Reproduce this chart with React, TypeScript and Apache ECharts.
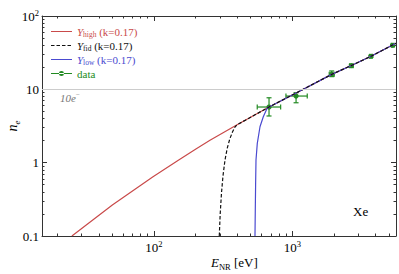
import React, { useEffect, useRef } from "react";
import * as echarts from "echarts";

// ---- data (energies in eV, n_e in electrons) ----
const E_HIGH = [25.5, 50, 98.4, 150, 201, 254, 396, 679, 1076, 1928, 2655, 3707, 5623];
const N_HIGH = [0.1, 0.265, 0.643, 1.08, 1.54, 2.02, 3.26, 5.74, 9.0, 16.0, 21.0, 28.2, 42.5];

const E_FID = [296.6, 301.1, 307.7, 315.4, 326.1, 338.8, 353.2, 369.4, 385.1, 396.3, 679, 1076, 1928, 2655, 3707, 5623];
const N_FID = [0.1, 0.199, 0.385, 0.657, 1.085, 1.582, 2.099, 2.615, 3.06, 3.26, 5.74, 9.0, 16.0, 21.0, 28.2, 42.5];

const E_LOW = [537.5, 540.2, 543, 546.6, 558.5, 584.2, 617.2, 656.4, 679, 1076, 1928, 2655, 3707, 5623];
const N_LOW = [0.1, 0.2256, 0.4947, 1.085, 1.834, 3.089, 4.229, 5.472, 5.74, 9.0, 16.0, 21.0, 28.2, 42.5];

const DATA_E = [679, 1065, 1928, 2672, 3705, 5320];
const DATA_E_LO = [558, 900, 1850, 2600, 3620, 5200];
const DATA_E_HI = [824, 1283, 2010, 2750, 3790, 5450];
const DATA_N = [5.74, 8.1, 16.0, 21.0, 28.2, 39.8];
const DATA_N_LO = [4.33, 6.56, 14.9, 20.1, 27.3, 38.6];
const DATA_N_HI = [7.67, 9.0, 17.8, 21.9, 29.1, 41.0];

const X_MIN_EV = 15.5;
const X_MAX_EV = 5623;
const Y_MIN = 0.1;
const Y_MAX = 100;
const X_MAJOR = [100, 1000];
const Y_MAJOR = [0.1, 1, 10, 100];
const REF_LEVEL = 10;

const RED = "#c94a4a";
const BLUE = "#4a4ad0";
const BLACK = "#111111";
const GREEN = "#228a22";
const AXIS = "#333333";
const FONT = "Liberation Serif";

const lg = (v: number) => Math.log10(v);

function minorTicks(lo: number, hi: number): number[] {
  const out: number[] = [];
  for (let d = -3; d <= 5; d++) {
    for (let k = 2; k <= 9; k++) {
      const v = k * Math.pow(10, d);
      if (v >= lo && v <= hi) out.push(lg(v));
    }
  }
  return out;
}

const pairs = (xs: number[], ys: number[]) => xs.map((x, i) => [lg(x), lg(ys[i])]);

const supFmt = (v: number) => {
  const r = Math.round(v);
  if (r === -1) return "0.1";
  if (r === 0) return "1";
  if (r === 1) return "10";
  return "10{sup|" + r + "}";
};

const labelRich = {
  sup: { fontSize: 8.5, fontFamily: FONT, color: "#000", verticalAlign: "top", lineHeight: 16 },
};

const BOX = "M0,0h0.01v0.01h-0.01Z M21,10h0.01v0.01h-0.01Z ";
const ICON_SOLID = "path://" + BOX + "M0,4.4H21V5.6H0Z";
const ICON_DASH =
  "path://" + BOX + "M0,4.4h3.5v1.2h-3.5Z M5.5,4.4h3.5v1.2h-3.5Z M11,4.4h3.5v1.2h-3.5Z M16.5,4.4h3.5v1.2h-3.5Z";
const ICON_DATA =
  "path://" + BOX + "M0,4.4H21V5.6H0Z M8,5a2.5,2.5 0 1,0 5,0a2.5,2.5 0 1,0 -5,0Z";

export default function App() {
  const ref = useRef<HTMLDivElement>(null);
  useEffect(() => {
    if (!ref.current) return;
    const chart = echarts.init(ref.current, undefined, { renderer: "svg" });
    const xmin = lg(X_MIN_EV);
    const xmax = lg(X_MAX_EV);
    const ymin = lg(Y_MIN);
    const ymax = lg(Y_MAX);
    const xMinor = minorTicks(X_MIN_EV, X_MAX_EV);
    const yMinor = minorTicks(Y_MIN, Y_MAX);
    const xMajor = X_MAJOR.map(lg);
    const yMajor = Y_MAJOR.map(lg);

    const lineOn = { show: true, onZero: false, lineStyle: { color: AXIS, width: 1 } };
    const lineOff = { show: false, onZero: false };
    const mk = (position: string, min: number, max: number, major: boolean, vals: number[], line: boolean, label: any) => ({
      type: "value",
      position,
      min,
      max,
      splitLine: { show: false },
      axisLine: line ? lineOn : lineOff,
      axisTick: { inside: true, length: major ? 5 : 2.5, customValues: vals, lineStyle: { color: AXIS } },
      axisLabel: label || { show: false },
    });

    const xLabel = {
      customValues: xMajor, formatter: supFmt, margin: 3,
      fontFamily: FONT, fontSize: 13, color: "#000", lineHeight: 16, rich: labelRich,
    };
    const yLabel = {
      customValues: yMajor, formatter: supFmt, margin: 3,
      fontFamily: FONT, fontSize: 13, color: "#000", lineHeight: 16, rich: labelRich,
    };

    const xAxes = [
      mk("bottom", xmin, xmax, true, xMajor, true, xLabel),
      mk("bottom", xmin, xmax, false, xMinor, false, null),
      mk("top", xmin, xmax, true, xMajor, true, null),
      mk("top", xmin, xmax, false, xMinor, false, null),
    ];
    const yMain: any = mk("left", ymin, ymax, true, yMajor, true, yLabel);
    yMain.name = "{i|n}{s|e}";
    yMain.nameLocation = "middle";
    yMain.nameGap = 21;
    yMain.nameMoveOverlap = false;
    yMain.nameTextStyle = {
      rich: {
        i: { fontFamily: FONT, fontStyle: "italic", fontSize: 14, color: "#000", lineHeight: 18 },
        s: { fontFamily: FONT, fontStyle: "italic", fontSize: 9, color: "#000", verticalAlign: "bottom", lineHeight: 18 },
      },
    };
    const yAxes = [
      yMain,
      mk("left", ymin, ymax, false, yMinor, false, null),
      mk("right", ymin, ymax, true, yMajor, true, null),
      mk("right", ymin, ymax, false, yMinor, false, null),
    ];

    const errData = DATA_E.map((e, i) => [
      lg(e), lg(DATA_N[i]), lg(DATA_E_LO[i]), lg(DATA_E_HI[i]), lg(DATA_N_LO[i]), lg(DATA_N_HI[i]),
    ]);

    const legendRich = {
      i: { fontFamily: FONT, fontStyle: "italic", fontSize: 11, lineHeight: 14 },
      s: { fontFamily: FONT, fontSize: 7.5, verticalAlign: "bottom", lineHeight: 14 },
      t: { fontFamily: FONT, fontSize: 11, lineHeight: 14 },
    };
    const legendNames: Record<string, string> = {
      Y_high: "{i|Y}{s|high}{t| (k=0.17)}",
      Y_fid: "{i|Y}{s|fid}{t| (k=0.17)}",
      Y_low: "{i|Y}{s|low}{t| (k=0.17)}",
      data: "{t|data}",
    };

    chart.setOption({
      animation: false,
      grid: { left: 42, right: 3, top: 16, bottom: 38, containLabel: false, outerBoundsMode: "none" },
      xAxis: xAxes,
      yAxis: yAxes,
      legend: {
        orient: "vertical",
        left: 51,
        top: 26,
        itemWidth: 21,
        itemHeight: 10,
        itemGap: 1.5,
        padding: 0,
        formatter: (n: string) => legendNames[n] || n,
        textStyle: { fontFamily: FONT, fontSize: 11, rich: legendRich },
        data: [
          { name: "Y_high", icon: ICON_SOLID, itemStyle: { color: RED, borderWidth: 0 }, textStyle: { color: RED } },
          { name: "Y_fid", icon: ICON_DASH, itemStyle: { color: BLACK, borderWidth: 0 }, textStyle: { color: BLACK } },
          { name: "Y_low", icon: ICON_SOLID, itemStyle: { color: BLUE, borderWidth: 0 }, textStyle: { color: BLUE } },
          { name: "data", icon: ICON_DATA, itemStyle: { color: GREEN, borderWidth: 0 }, textStyle: { color: GREEN } },
        ],
      },
      graphic: [
        {
          type: "text",
          left: 211,
          top: 256,
          style: {
            text: "{i|E}{s|NR}{t| [eV]}",
            rich: {
              i: { fontFamily: FONT, fontStyle: "italic", fontSize: 13, fill: "#000", lineHeight: 18 },
              s: { fontFamily: FONT, fontSize: 8.5, fill: "#000", verticalAlign: "bottom", lineHeight: 18 },
              t: { fontFamily: FONT, fontSize: 13, fill: "#000", lineHeight: 18 },
            },
          },
        },
        {
          type: "text",
          left: 353,
          top: 205,
          style: { text: "Xe", fontFamily: FONT, fontSize: 13, fill: "#000" },
        },
      ],
      series: [
        {
          name: "Y_high",
          type: "line",
          data: pairs(E_HIGH, N_HIGH),
          symbol: "none",
          lineStyle: { color: RED, width: 1.2 },
          itemStyle: { color: RED },
          markLine: {
            silent: true,
            symbol: "none",
            lineStyle: { color: "#cccccc", width: 1, type: "solid" },
            label: {
              show: true,
              position: "insideStartBottom",
              distance: [18, 2],
              formatter: "{a|10e}{b|−}",
              rich: {
                a: { fontFamily: FONT, fontStyle: "italic", fontSize: 11, color: "#777", lineHeight: 14 },
                b: { fontFamily: FONT, fontSize: 7, color: "#777", verticalAlign: "top", lineHeight: 14 },
              },
            },
            data: [{ yAxis: lg(REF_LEVEL) }],
          },
        },
        {
          name: "Y_low",
          type: "line",
          data: pairs(E_LOW, N_LOW),
          symbol: "none",
          lineStyle: { color: BLUE, width: 1.2 },
          itemStyle: { color: BLUE },
        },
        {
          name: "Y_fid",
          type: "line",
          data: pairs(E_FID, N_FID),
          symbol: "none",
          lineStyle: { color: BLACK, width: 1.2, type: [3.5, 2] },
          itemStyle: { color: BLACK },
        },
        {
          name: "data",
          type: "custom",
          itemStyle: { color: GREEN },
          encode: { x: 0, y: 1 },
          data: errData,
          renderItem: (params: any, api: any) => {
            const c = api.coord([api.value(0), api.value(1)]);
            const xl = api.coord([api.value(2), api.value(1)]);
            const xh = api.coord([api.value(3), api.value(1)]);
            const yl = api.coord([api.value(0), api.value(4)]);
            const yh = api.coord([api.value(0), api.value(5)]);
            const st = { stroke: GREEN, lineWidth: 1.2 };
            const cap = 2.5;
            return {
              type: "group",
              children: [
                { type: "line", shape: { x1: xl[0], y1: xl[1], x2: xh[0], y2: xh[1] }, style: st },
                { type: "line", shape: { x1: yl[0], y1: yl[1], x2: yh[0], y2: yh[1] }, style: st },
                { type: "line", shape: { x1: xl[0], y1: xl[1] - cap, x2: xl[0], y2: xl[1] + cap }, style: st },
                { type: "line", shape: { x1: xh[0], y1: xh[1] - cap, x2: xh[0], y2: xh[1] + cap }, style: st },
                { type: "line", shape: { x1: yl[0] - cap, y1: yl[1], x2: yl[0] + cap, y2: yl[1] }, style: st },
                { type: "line", shape: { x1: yh[0] - cap, y1: yh[1], x2: yh[0] + cap, y2: yh[1] }, style: st },
                { type: "circle", shape: { cx: c[0], cy: c[1], r: 2.6 }, style: { fill: GREEN } },
              ],
            };
          },
        },
      ],
    });
    return () => chart.dispose();
  }, []);
  return (
    <div
      ref={ref}
      style={{ position: "fixed", left: 0, top: 0, width: 399, height: 274, background: "#fff" }}
    />
  );
}
